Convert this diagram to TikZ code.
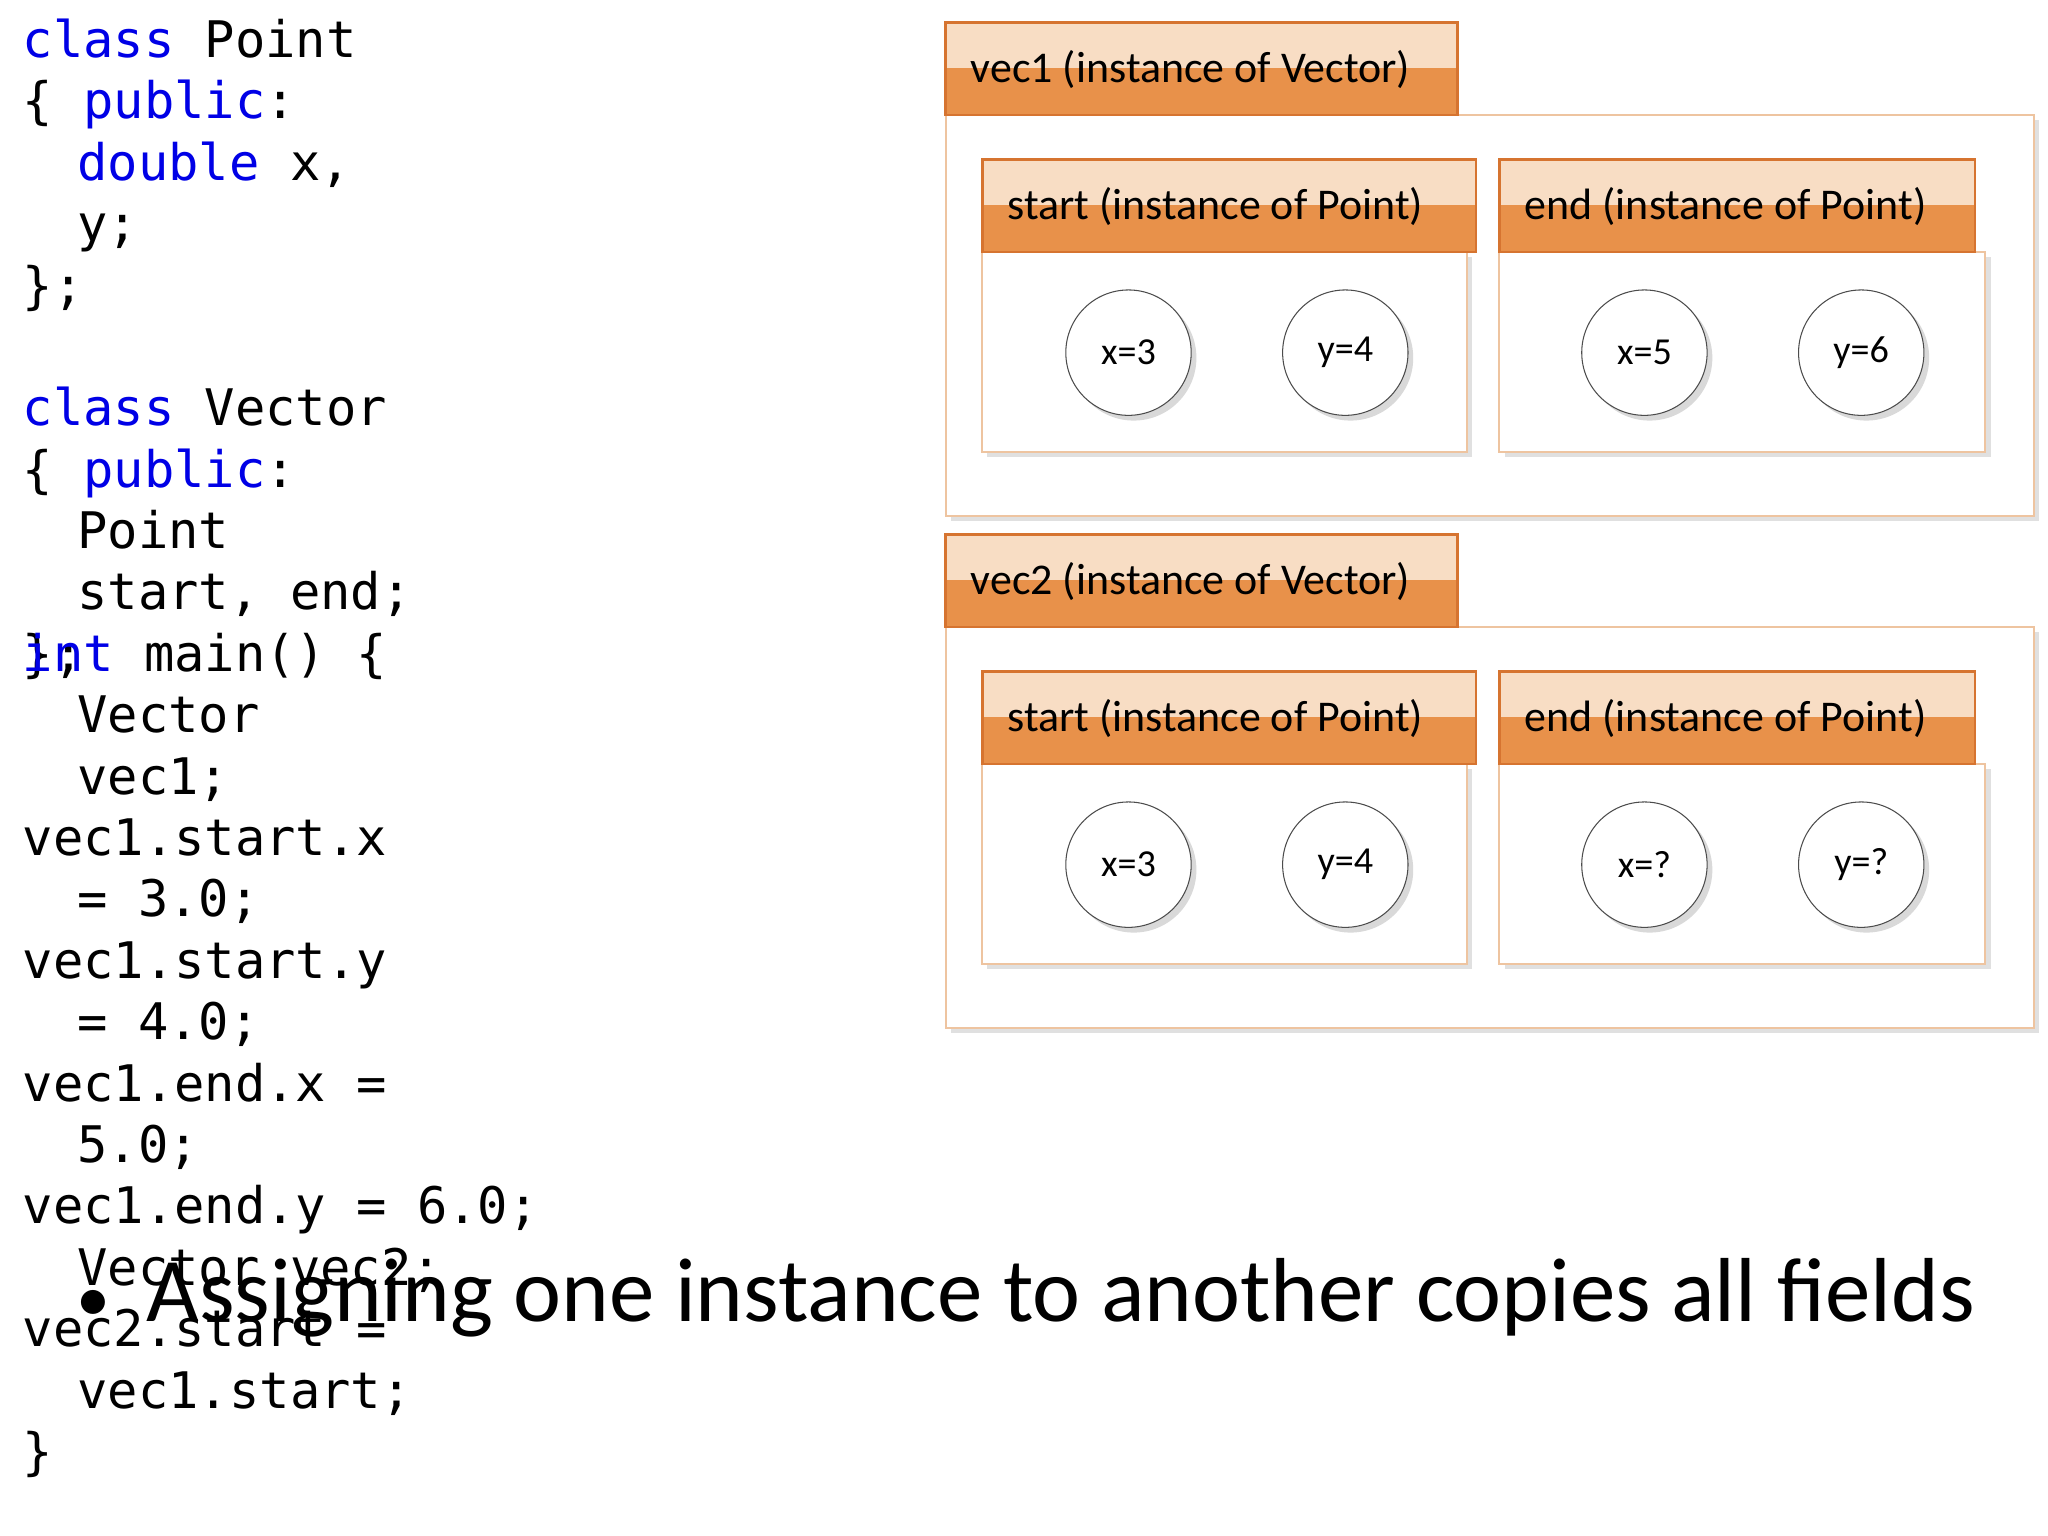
\documentclass[tikz,border=0pt]{standalone}
\usepackage{fontspec}
\setmainfont{Carlito}
\setmonofont{DejaVu Sans Mono}
\definecolor{kw}{RGB}{0,0,230}
\definecolor{hlight}{RGB}{248,221,196}
\definecolor{hdark}{RGB}{232,145,74}
\definecolor{hborder}{RGB}{214,116,48}
\definecolor{bborder}{RGB}{238,196,160}
\begin{document}
\begin{tikzpicture}[x=0.5pt,y=-0.5pt,
  code/.style={anchor=base west,inner sep=0pt,font=\ttfamily\fontsize{19.3}{20}\selectfont},
  lab/.style={anchor=west,inner sep=0pt,font=\fontsize{16.8}{18}\selectfont},
  fld/.style={circle,draw=black!70,fill=white,minimum size=48pt,inner sep=0pt,font=\fontsize{14.6}{16}\selectfont}]
\useasboundingbox (0,0) rectangle (1568,1176);
\fill[white] (0,0) rectangle (1568,1176);
% code
\foreach \y/\x/\t in {
 44/17/{\textcolor{kw}{class} Point},
 91/17/{\{ \textcolor{kw}{public}:},
 138/59/{\textcolor{kw}{double} x,},
 185/59/{y;},
 232/17/{\};},
 326/17/{\textcolor{kw}{class} Vector},
 373/17/{\{ \textcolor{kw}{public}:},
 420/59/{Point},
 467/59/{start, end;},
 514/17/{\};},
 514/17/{\textcolor{kw}{int} main() \{},
 561/59/{Vector},
 608/59/{vec1;},
 655/17/{vec1.start.x},
 702/59/{= 3.0;},
 749/17/{vec1.start.y},
 796/59/{= 4.0;},
 843/17/{vec1.end.x =},
 890/59/{5.0;},
 937/17/{vec1.end.y = 6.0;},
 984/59/{Vector vec2;},
 1031/17/{vec2.start =},
 1078/59/{vec1.start;},
 1125/17/{\}}}
 \node[code] at (\x,\y) {\t};
% bullet
\node[anchor=base west,inner sep=0pt,font=\fontsize{34.8}{40}\selectfont] (bul) at (58,1012) {{\fontsize{26}{30}\selectfont•}\hspace{14pt}Assigning one instance to another copies all fields};
% boxes
\newcommand{\hdr}[5]{% x1 y1 x2 y2 text
  \fill[hdark] (#1,#2) rectangle (#3,#4);
  \fill[hlight] (#1,#2) rectangle (#3,{(#2)+35});
  \draw[hborder,line width=1pt] (#1,#2) rectangle (#3,#4);
  \node[lab] at ({#1+19},{(#2)+36}) {#5};}
\newcommand{\bodybox}[4]{%
  \fill[black!12] ({#1+4},{(#2)+4}) rectangle ({#3+4},{(#4)+4});
  \fill[white] (#1,#2) rectangle (#3,#4);
  \draw[bborder,line width=0.8pt] (#1,#2) rectangle (#3,#4);}
\newcommand{\fieldc}[3]{%
  \fill[black!15] ({#1+4},{(#2)+4}) circle (48);
  \node[fld] at (#1,#2) {#3};}
\foreach \o/\n/\a/\b/\c/\d in {0/vec1/x=3/y=4/x=5/y=6, 392/vec2/x=3/y=4/x=?/y=?}{
  \bodybox{724}{88+\o}{1557}{395+\o}
  \hdr{724}{17+\o}{1116}{88+\o}{\n\ (instance of Vector)}
  \bodybox{752}{193+\o}{1123}{346+\o}
  \hdr{752}{122+\o}{1130}{193+\o}{start (instance of Point)}
  \bodybox{1148}{193+\o}{1520}{346+\o}
  \hdr{1148}{122+\o}{1512}{193+\o}{end (instance of Point)}
  \fieldc{864}{270+\o}{\a}
  \fieldc{1030}{270+\o}{\b}
  \fieldc{1259}{270+\o}{\c}
  \fieldc{1425}{270+\o}{\d}
}
\end{tikzpicture}
\end{document}
